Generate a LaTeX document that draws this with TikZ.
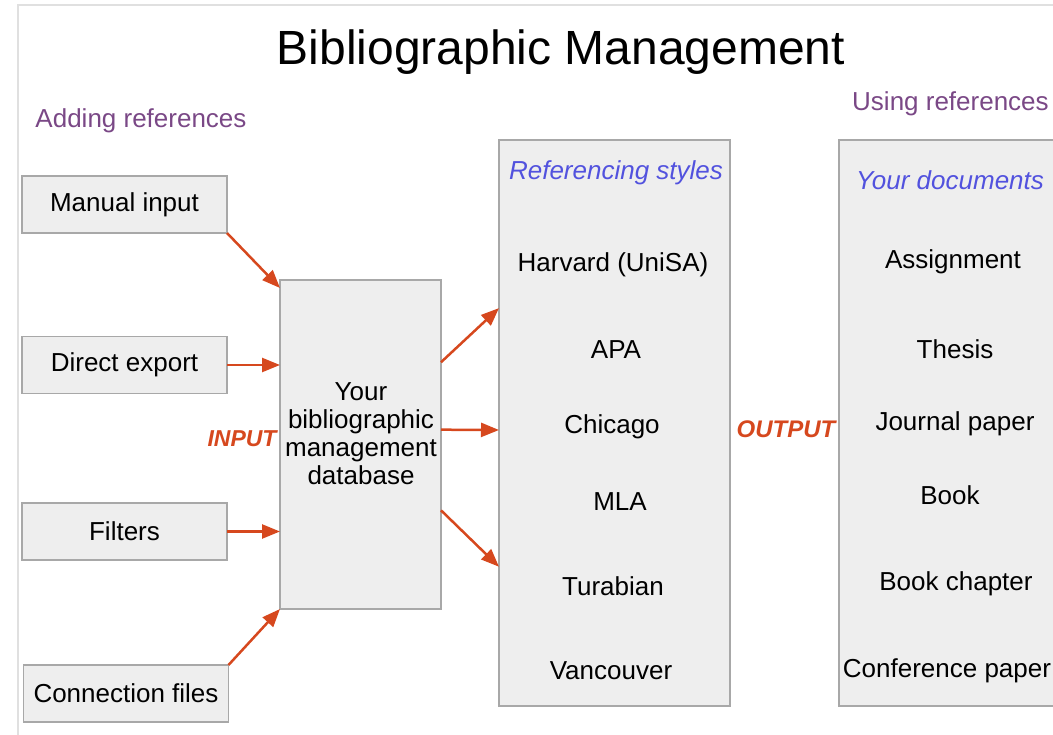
\documentclass[tikz,border=0pt]{standalone}
\usepackage{fontspec}
\setmainfont{Liberation Sans}
\usepackage{tikz}
\usepackage{xcolor}
\usetikzlibrary{calc,shapes,arrows.meta}
\definecolor{arrowred}{RGB}{214, 72, 30}
\definecolor{sectpurple}{RGB}{122, 72, 134}
\definecolor{headblue}{RGB}{82, 82, 222}
\definecolor{boxfill}{RGB}{238, 238, 238}
\definecolor{boxline}{RGB}{168, 168, 168}
\definecolor{framegray}{RGB}{224, 224, 224}
\newcommand{\sectlabel}[1]{\textcolor{sectpurple}{#1}}
\newcommand{\colhead}[1]{\textit{\textcolor{headblue}{#1}}}
\newcommand{\flowtag}[1]{\textbf{\textit{\textcolor{arrowred}{#1}}}}
\tikzset{
  srcbox/.style={draw=boxline, fill=boxfill, line width=1.5pt, outer sep=0pt,
    minimum width=205pt, minimum height=57pt},
  bigbox/.style={draw=boxline, fill=boxfill, line width=1.5pt, outer sep=0pt},
  item/.style={inner sep=0pt},
  flow/.style={draw=arrowred, line width=2.5pt, -{Triangle[length=18pt,width=14pt]}}
}

\begin{document}
\begin{tikzpicture}[x=1pt, y=-1pt, font=\fontsize{26}{28}\selectfont]
\useasboundingbox (0,0) rectangle (1053,735);
\draw[framegray, line width=2pt] (18,735) -- (18,5) -- (1053,5);

\node[item] (title) at (561,52) {\fontsize{48}{52}\selectfont Bibliographic Management};
\node[item] (adding) at (141,121) {\sectlabel{Adding references}};
\node[item, anchor=west] (using) at (852,104) {\sectlabel{Using references}};

% sources
\node[srcbox] (manual) at (124.5,204.5) {Manual input};
\node[srcbox] (direct) at (124.5,365) {Direct export};
\node[srcbox] (filters) at (124.5,531.5) {Filters};
\node[srcbox] (connfiles) at (126,693.5) {Connection files};

% database
\node[bigbox, minimum width=161pt, minimum height=329pt] (db) at (360.5,444.5) {};
\node[item, align=center] (dbtext) at (361,434) {Your\\bibliographic\\management\\database};
\node[item] (input) at (242,439) {\fontsize{23}{26}\selectfont\flowtag{INPUT}};

% referencing styles
\node[bigbox, minimum width=231pt, minimum height=566pt] (styles) at (614.5,423) {};
\node[item] (styleshead) at (616,173) {\colhead{Referencing styles}};
\node[item] (harvard) at (613,265) {Harvard (UniSA)};
\node[item] (apa) at (616,350) {APA};
\node[item] (chicago) at (612,427) {Chicago};
\node[item] (mla) at (620,502) {MLA};
\node[item] (turabian) at (613,586) {Turabian};
\node[item] (vancouver) at (611,671) {Vancouver};

\node[item] (output) at (786,429) {\fontsize{24}{26}\selectfont\flowtag{OUTPUT}};

% your documents
\node[bigbox, minimum width=232pt, minimum height=566pt] (docs) at (955,423) {};
\node[item] (docshead) at (950,180) {\colhead{Your documents}};
\node[item] (assignment) at (953,262) {Assignment};
\node[item] (thesis) at (955,349) {Thesis};
\node[item] (journal) at (955,424) {Journal paper};
\node[item] (book) at (950,495) {Book};
\node[item] (chapter) at (956,584) {Book chapter};
\node[item] (conference) at (947,671) {Conference paper};

% arrows in
\draw[flow] (manual.south east) -- ($(db.north west)+(0,8)$);
\draw[flow] (direct.east) -- (db.west |- direct.east);
\draw[flow] (filters.east) -- (db.west |- filters.east);
\draw[flow] (connfiles.north east) -- (db.south west);

% arrows out
\draw[flow] ($(db.north east)!0.25!(db.south east)$) -- ($(styles.north west)!0.297!(styles.south west)$);
\draw[flow] ($(db.north east)!0.455!(db.south east)$) -- (styles.west |- 0,430);
\draw[flow] ($(db.north east)!0.7!(db.south east)$) -- ($(styles.north west)!0.754!(styles.south west)$);
\end{tikzpicture}
\end{document}
